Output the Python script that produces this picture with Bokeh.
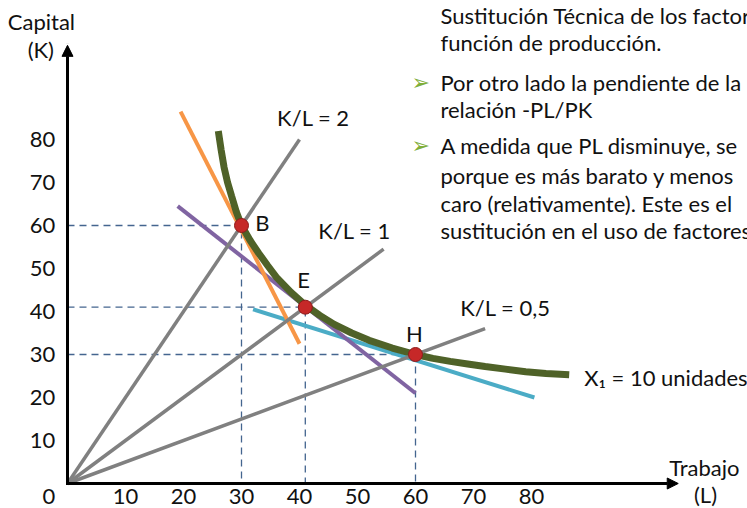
from bokeh.plotting import figure
from bokeh.models import Range1d, Arrow, NormalHead
from bokeh.core.properties import value
from bokeh.embed import file_html
from bokeh.resources import INLINE

# ---------------- data ----------------
x_ticks = [10, 20, 30, 40, 50, 60, 70, 80]
y_ticks = [10, 20, 30, 40, 50, 60, 70, 80]

# isoquant X1 = 10 unidades
iso_L = [26, 26.5, 27, 27.6, 28.3, 29.1, 30, 31.5, 33, 34.5, 36, 38.5, 41, 43.5, 46,
         49, 52, 56, 60, 63, 66, 69, 72, 75.5, 79, 82.5, 86.5]
iso_K = [82, 77.5, 73.5, 70, 66.8, 63.2, 60, 56.5, 53.5, 50.7, 48, 44.5, 41.5, 39.1, 37,
         35, 33.3, 31.5, 30, 29.1, 28.4, 27.8, 27.2, 26.6, 26.0, 25.6, 25.3]

# rays K/L
ray_ratio = [2, 1, 0.5]
ray_end_L = [40, 54.5, 72]
ray_labels = ["K/L = 2", "K/L = 1", "K/L = 0,5"]

# tangency points
pt_names = ["B", "E", "H"]
pt_L = [30, 41, 60]
pt_K = [60, 41, 30]

# price lines
orange_L = [19.5, 40.0]
orange_K = [86.5, 32.5]
purple_L = [19.0, 60.0]
purple_K = [64.5, 21.0]
cyan_L = [32.0, 80.5]
cyan_K = [40.5, 20.0]

bullet_lines = [
    "Sustitución Técnica de los factor",
    "función de producción.",
    "Por otro lado la pendiente de la",
    "relación -PL/PK",
    "A medida que PL disminuye, se",
    "porque es más barato y menos",
    "caro (relativamente). Este es el",
    "sustitución en el uso de factores",
]

# ---------------- figure ----------------
FONT = "Lato"
W, H = 747, 508
PXX, PXY = 5.8, 4.3          # pixels per unit
x0 = -67 / PXX
y0 = -(H - 483) / PXY
p = figure(width=W, height=H, x_range=Range1d(x0, x0 + W / PXX),
           y_range=Range1d(y0, y0 + H / PXY),
           x_axis_location=None, y_axis_location=None,
           toolbar_location=None, output_backend="svg", min_border=0)
p.outline_line_color = None
p.background_fill_color = "white"
p.border_fill_color = "white"
p.xgrid.grid_line_color = None
p.ygrid.grid_line_color = None

# dashed guide lines
for L, K in zip(pt_L, pt_K):
    p.line([0, L, L], [K, K, 0], line_color="#44658f", line_width=1.3,
           line_dash="7 5")

# price lines
p.line(cyan_L, cyan_K, line_color="#4bacc6", line_width=4)
p.line(purple_L, purple_K, line_color="#8064a2", line_width=4)
p.line(orange_L, orange_K, line_color="#f79646", line_width=4)

# isoquant
p.line(iso_L, iso_K, line_color="#4f6228", line_width=7)

# rays
for r, e in zip(ray_ratio, ray_end_L):
    p.line([0, e], [0, e * r], line_color="#808080", line_width=3.5)

# axes arrows
p.add_layout(Arrow(end=NormalHead(size=11, fill_color="black", line_color="black"),
                   x_start=0, y_start=0, x_end=105.3, y_end=0,
                   line_color="black", line_width=3, line_cap="square"))
p.add_layout(Arrow(end=NormalHead(size=11, fill_color="black", line_color="black"),
                   x_start=0, y_start=0, x_end=0, y_end=101.9,
                   line_color="black", line_width=3, line_cap="square"))

# points
p.scatter(pt_L, pt_K, size=14, fill_color="#c62828", line_color="#8e1b1b",
          line_width=1)

txt = dict(text_font=value(FONT), text_font_size="22px", text_color="#111111",
           text_baseline="middle")

# tick labels
p.text(x=[t for t in x_ticks], y=[-3.0] * len(x_ticks),
       text=[str(t) for t in x_ticks], text_align="center", **txt)
p.text(x=[-2.1] * len(y_ticks), y=y_ticks,
       text=[str(t) for t in y_ticks], text_align="right", **txt)
p.text(x=[-2.1], y=[-3.0], text=["0"], text_align="right", **txt)

# axis titles
p.text(x=[-4.5, -4.6], y=[107.4, 100.9], text=["Capital", "(K)"],
       text_align="center", **txt)
p.text(x=[109.8, 110.0], y=[3.7, -2.6], text=["Trabajo", "(L)"],
       text_align="center", **txt)

# ray labels
p.text(x=[42.4, 49.5, 75.5], y=[85.1, 58.8, 40.9], text=ray_labels,
       text_align="center", **txt)

# point labels
p.text(x=[33.6, 40.7, 59.8], y=[60.7, 47.4, 34.9], text=pt_names,
       text_align="center", **txt)

# isoquant label
p.text(x=[89.1], y=[24.7], text=["X₁ = 10 unidades"], text_align="left", **txt)

# bullet text
bl_y = [108.8, 102.6, 93.3, 87.0, 78.6, 71.6, 65.1, 58.8]
p.text(x=[64.3] * len(bullet_lines), y=bl_y, text=bullet_lines,
       text_align="left", **txt)
p.text(x=[60.9, 60.9], y=[93.3, 78.6], text=["➢", "➢"],
       text_font=value("DejaVu Sans"), text_font_size="22px",
       text_color="#7fae3a", text_align="center", text_baseline="middle")

open("out.html", "w").write(file_html(p, INLINE))
